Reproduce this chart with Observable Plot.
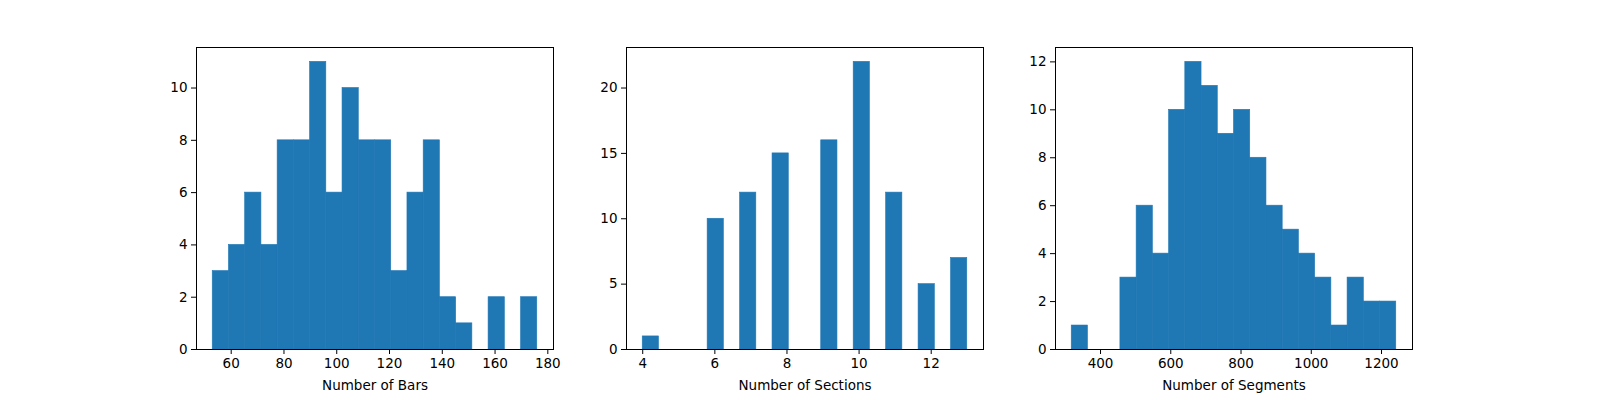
<!DOCTYPE html>
<html>
<head>
<meta charset="utf-8">
<script src="https://cdn.jsdelivr.net/npm/d3@7"></script>
<script src="https://cdn.jsdelivr.net/npm/@observablehq/plot@0.6"></script>
<style>
  body { margin: 0; background: #fff; }
  #wrap { position: relative; width: 1600px; height: 400px; }
  #wrap svg { position: absolute; top: 0; max-width: none; }
</style>
</head>
<body>
<div id="wrap"></div>
<script>
// histogram counts per panel (20 bins each)
const barsCounts = [3, 4, 6, 4, 8, 8, 11, 6, 10, 8, 8, 3, 6, 8, 2, 1, 0, 2, 0, 2];
const sectionsCounts = [1, 0, 0, 0, 10, 0, 12, 0, 15, 0, 0, 16, 0, 22, 0, 12, 0, 5, 0, 7];
const segmentsCounts = [1, 0, 0, 3, 6, 4, 10, 12, 11, 9, 10, 8, 6, 5, 4, 3, 1, 3, 2, 2];

// bin range [min, max] per panel
const barsRange = [53, 176];
const sectionsRange = [4, 13];
const segmentsRange = [318, 1242];

const panels = [
  { label: "Number of Bars", counts: barsCounts, range: barsRange, xTicks: [60, 80, 100, 120, 140, 160, 180], yTicks: [0, 2, 4, 6, 8, 10], left: 146 },
  { label: "Number of Sections", counts: sectionsCounts, range: sectionsRange, xTicks: [4, 6, 8, 10, 12], yTicks: [0, 5, 10, 15, 20], left: 576 },
  { label: "Number of Segments", counts: segmentsCounts, range: segmentsRange, xTicks: [400, 600, 800, 1000, 1200], yTicks: [0, 2, 4, 6, 8, 10, 12], left: 1005 }
];

const wrap = document.getElementById("wrap");

for (const p of panels) {
  const [lo, hi] = p.range;
  const w = (hi - lo) / p.counts.length;
  const bins = p.counts.map((c, i) => ({ x1: lo + i * w, x2: lo + (i + 1) * w, count: c }));
  const pad = (hi - lo) * 0.05;
  const ymax = d3.max(p.counts) * 1.05;

  const chart = Plot.plot({
    width: 461,
    height: 400,
    marginLeft: 50,
    marginRight: 54,
    marginTop: 47,
    marginBottom: 51,
    style: { fontFamily: "DejaVu Sans", fontSize: "13.5px", color: "#000", background: "white" },
    x: { domain: [lo - pad, hi + pad], ticks: p.xTicks, tickFormat: "d", tickSize: 5, tickPadding: 4, label: p.label, labelAnchor: "center", labelOffset: 40, labelArrow: "none" },
    y: { domain: [0, ymax], ticks: p.yTicks, tickFormat: "d", tickSize: 5, tickPadding: 4, label: null },
    marks: [
      Plot.rectY(bins, { x1: "x1", x2: "x2", y: "count", fill: "#1f77b4", stroke: "#1f77b4", strokeWidth: 0.6, inset: 0 }),
      Plot.frame({ stroke: "#000", strokeWidth: 1 })
    ]
  });
  chart.style.left = p.left + "px";
  wrap.append(chart);
}
</script>
</body>
</html>
